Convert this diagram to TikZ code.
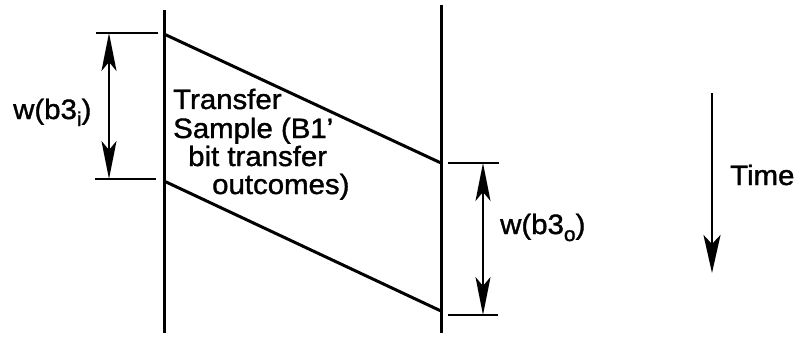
\documentclass[tikz,border=0pt]{standalone}
\usepackage{fontspec}
\setmainfont{Liberation Sans}[FakeStretch=1.05,FakeBold=1.3]
\usetikzlibrary{arrows.meta}
\newcommand{\lowsub}[1]{\raisebox{-7pt}{\fontsize{20}{20}\selectfont #1}}
\tikzset{
  bar/.style={line width=3pt},
  tick/.style={line width=2.4pt},
  dimarrow/.style={line width=2.2pt,
    {Stealth[length=38pt,width=15pt,inset=9pt]}-{Stealth[length=38pt,width=15pt,inset=9pt]}},
  timearrow/.style={line width=2.8pt,-{Stealth[length=38pt,width=17pt,inset=9pt]}},
  lbl/.style={inner sep=0pt,anchor=base west,font=\fontsize{28}{29}\selectfont}
}
\begin{document}
\begin{tikzpicture}[x=1pt,y=-1pt]
\useasboundingbox[fill=white] (0,0) rectangle (801,337);
% vertical lines
\coordinate (LA) at (164,10);
\coordinate (LB) at (164,333);
\coordinate (RA) at (441,5);
\coordinate (RB) at (441,333);
\draw[bar] (LA) -- (LB);
\draw[bar] (RA) -- (RB);
% slanted lines
\coordinate (S1a) at (164,34);
\coordinate (S1b) at (441,163);
\coordinate (S2a) at (164,181);
\coordinate (S2b) at (441,311);
\draw[bar] (S1a) -- (S1b);
\draw[bar] (S2a) -- (S2b);
% left dimension
\coordinate (TIa) at (96,33);
\coordinate (TIb) at (158,33);
\coordinate (BIa) at (95,179);
\coordinate (BIb) at (156,179);
\draw[tick] (TIa) -- (TIb);
\draw[tick] (BIa) -- (BIb);
\coordinate (DIa) at (109,33);
\coordinate (DIb) at (109,179);
\draw[dimarrow] (DIa) -- (DIb);
\node[lbl] (wi) at (13,119) {w(b3\lowsub{i})};
% right dimension
\coordinate (TOa) at (448,163);
\coordinate (TOb) at (499,163);
\coordinate (BOa) at (448,315);
\coordinate (BOb) at (498,315);
\draw[tick] (TOa) -- (TOb);
\draw[tick] (BOa) -- (BOb);
\coordinate (DOa) at (483,163);
\coordinate (DOb) at (483,315);
\draw[dimarrow] (DOa) -- (DOb);
\node[lbl] (wo) at (500,234) {w(b3\lowsub{o})};
% text block
\node[lbl] (t1) at (173,109) {Transfer};
\node[lbl] (t2) at (173,138) {Sample (B1'};
\node[lbl] (t3) at (188,166) {bit transfer};
\node[lbl] (t4) at (212,194) {outcomes)};
% time arrow
\coordinate (TA) at (712,93);
\coordinate (TB) at (712,273);
\draw[timearrow] (TA) -- (TB);
\node[lbl] (time) at (730,185) {Time};
\end{tikzpicture}
\end{document}
